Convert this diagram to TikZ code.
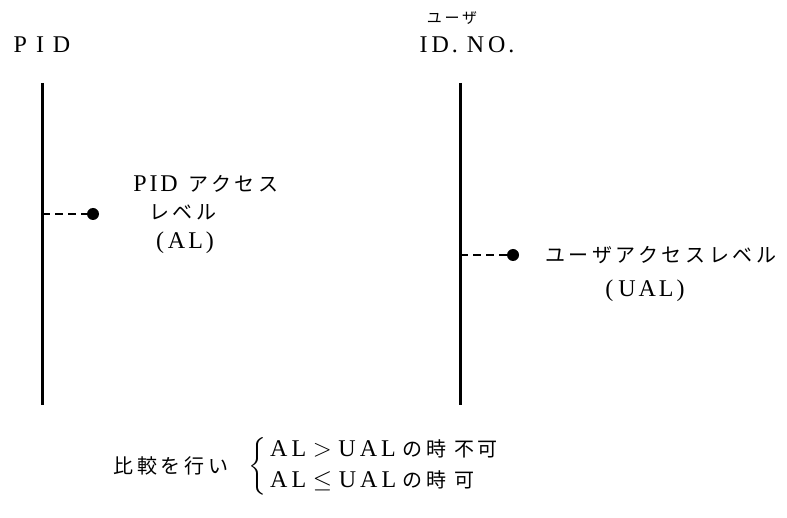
\documentclass[tikz,border=0pt]{standalone}
\usepackage{amsmath,amssymb}
\usepackage{fontspec}
\usepackage{tikz}
\usetikzlibrary{positioning}
\newfontfamily\jp[LetterSpace=18]{Noto Sans CJK JP}
\newfontfamily\lat[LetterSpace=12]{Liberation Serif}
\newcommand{\ja}[1]{{\fontsize{20}{26}\selectfont\jp #1}}

\begin{document}
\begin{tikzpicture}[
  x=1pt,y=-1pt,
  font=\fontsize{24}{26}\selectfont\lat,
  lbl/.style={inner sep=0pt,align=center},
  bar/.style={line width=3pt},
  tick/.style={line width=1.6pt,dash pattern=on 8pt off 5pt},
  dot/.style={circle,fill=black,inner sep=0pt,minimum size=12pt},
]
\useasboundingbox (0,0) rectangle (787,518);
% left side: PID
\node[lbl] (pid) at (42,45) {P\hspace{9pt}I\hspace{9pt}D};
\coordinate (pidtop) at (42,83);
\coordinate (pidbot) at (42,405);
\draw[bar] (pidtop)--(pidbot);
\node[dot] (aldot) at (93,214) {};
\draw[tick] (pidtop|-aldot)--(aldot);
\node[lbl] (al1) at (206,184) {PID\hspace{11pt}\ja{アクセス}};
\node[lbl] (al2) at (183,212) {\ja{レベル}};
\node[lbl] (al3) at (185,243) {(\hspace{4pt}A\hspace{3pt}L\hspace{3pt})};
% right side: user
\node[lbl] (uid1) at (452,18) {\ja{\fontsize{15}{16}\selectfont ユーザ}};
\node[lbl] (uid2) at (467,45) {I\,D. N\,O.};
\coordinate (uidtop) at (460,83);
\coordinate (uidbot) at (460,405);
\draw[bar] (uidtop)--(uidbot);
\node[dot] (ualdot) at (513,255) {};
\draw[tick] (uidtop|-ualdot)--(ualdot);
\node[lbl,anchor=west] (ual1) at (545,255) {\ja{ユーザアクセスレベル}};
\node[lbl] (ual2) at (645,291) {(\hspace{5pt}U\hspace{3pt}A\hspace{3pt}L\hspace{3pt})};
% comparison
\node[lbl] (cmp) at (171,466) {\ja{比較を行い}};
\node[lbl,anchor=west] (rule) at (248,466)
 {\renewcommand{\arraystretch}{1.2}$\left\{\begin{tabular}{@{\,}l@{}}
  A\,L\;$>$\;U\,A\,L\;\ja{の時 不可}\\
  A\,L\;$\leq$\;U\,A\,L\;\ja{の時 可}
 \end{tabular}\right.$};
\end{tikzpicture}
\end{document}
